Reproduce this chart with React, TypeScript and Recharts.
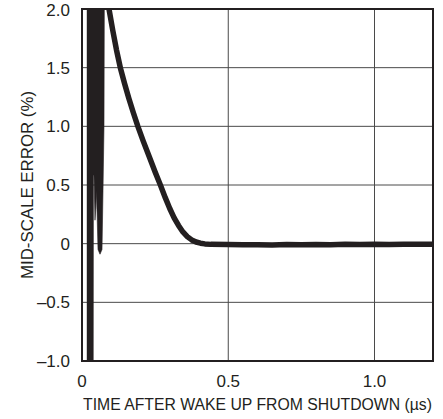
import React from 'react';
import { ComposedChart, Line, Area, XAxis, YAxis, CartesianGrid, ReferenceArea, Label } from 'recharts';

// wake-up burst envelope: time (µs), lower and upper mid-scale error (%)
const burstT: number[] = [
  0.01641, 0.03829, 0.03897, 0.04103, 0.04444, 0.04718, 0.04889,
  0.05128, 0.0547, 0.06154, 0.06838, 0.07179, 0.07521, 0.07658,
];
const burstLo: number[] = [
  -1.3, -1.3, 0.58, 0.58, 0.2, 0.3, 0.45,
  0.29, -0.05, -0.09, -0.05, 0.45, 1.0, 2.3,
];
const burstHi: number[] = [
  2.3, 2.3, 2.3, 2.3, 2.3, 2.3, 2.3,
  2.3, 2.3, 2.3, 2.3, 2.3, 2.3, 2.3,
];

// settling: time (µs) and mid-scale error (%)
const settleT: number[] = [
  0.0701, 0.0923, 0.105, 0.118, 0.131, 0.145, 0.16, 0.175, 0.191, 0.21, 0.23, 0.25, 0.268,
  0.285, 0.3, 0.315, 0.33, 0.345, 0.36, 0.375, 0.39, 0.405, 0.42, 0.44,
  0.5, 0.55, 0.6, 0.65, 0.7, 0.75, 0.8, 0.85, 0.9, 0.95, 1.0, 1.05, 1.1, 1.15, 1.2,
];
const settleV: number[] = [
  2.3, 2.0, 1.82, 1.65, 1.5, 1.37, 1.24, 1.12, 1.0, 0.87, 0.74, 0.61, 0.5,
  0.39, 0.3, 0.22, 0.155, 0.1, 0.06, 0.032, 0.014, 0.004, -0.002, -0.006,
  -0.008, -0.01, -0.009, -0.011, -0.008, -0.01, -0.007, -0.009, -0.006, -0.008, -0.005, -0.007, -0.004, -0.006, -0.004,
];

const xTicks = [0, 0.5, 1.0];
const xTickLabels = ['0', '0.5', '1.0'];
const yTicks = [-1.0, -0.5, 0, 0.5, 1.0, 1.5, 2.0];
const yTickLabels = ['\u20131.0', '\u20130.5', '0', '0.5', '1.0', '1.5', '2.0'];

const xTitle = 'TIME AFTER WAKE UP FROM SHUTDOWN (µs)';
const yTitle = 'MID-SCALE ERROR (%)';

type Row = { t: number; burst?: [number, number]; settle?: number };
const data: Row[] = [
  ...burstT.map((t, i) => ({ t, burst: [burstLo[i], burstHi[i]] as [number, number] })),
  ...settleT.map((t, i) => ({ t, settle: settleV[i] })),
];

const INK = '#231f20';
const FONT = '"Liberation Sans", Arial, sans-serif';

const XTitle = (props: any) => {
  const vb = props.viewBox || {};
  return (
    <text
      x={vb.x + vb.width / 2}
      y={vb.y + 49}
      textAnchor="middle"
      fontSize={16}
      fontFamily={FONT}
      fill={INK}
      textLength={349}
      lengthAdjust="spacingAndGlyphs"
    >
      {xTitle}
    </text>
  );
};

const YTitle = (props: any) => {
  const vb = props.viewBox || {};
  const cx = 33;
  const cy = vb.y + vb.height / 2;
  return (
    <text
      x={cx}
      y={cy}
      transform={`rotate(-90 ${cx} ${cy})`}
      textAnchor="middle"
      fontSize={17}
      fontFamily={FONT}
      fill={INK}
      textLength={188}
      lengthAdjust="spacingAndGlyphs"
    >
      {yTitle}
    </text>
  );
};

export default function App() {
  return (
    <div style={{ position: 'absolute', left: 0, top: 0, width: 443, height: 419, background: '#fff' }}>
      <ComposedChart
        width={443}
        height={419}
        data={data}
        margin={{ top: 9, right: 10, bottom: 0, left: 0 }}
      >
        <CartesianGrid stroke="#4a4a4a" strokeWidth={1} />
        <XAxis
          type="number"
          dataKey="t"
          domain={[0, 1.2]}
          ticks={xTicks}
          tickFormatter={(v: number) => xTickLabels[xTicks.indexOf(v)] ?? String(v)}
          allowDataOverflow
          tickLine={false}
          axisLine={false}
          height={58}
          tickMargin={8}
          tick={{ fill: INK, fontSize: 17, fontFamily: FONT }}
        >
          <Label content={XTitle} />
        </XAxis>
        <YAxis
          type="number"
          domain={[-1, 2]}
          ticks={yTicks}
          tickFormatter={(v: number) => yTickLabels[yTicks.indexOf(v)] ?? String(v)}
          allowDataOverflow
          tickLine={false}
          axisLine={false}
          width={82}
          tickMargin={6}
          tick={{ fill: INK, fontSize: 17, fontFamily: FONT }}
        >
          <Label content={YTitle} />
        </YAxis>
        <ReferenceArea
          x1={0}
          x2={1.2}
          y1={-1}
          y2={2}
          fill="none"
          fillOpacity={0}
          stroke={INK}
          strokeWidth={2}
          strokeOpacity={1}
        />
        <Area
          type="linear"
          dataKey="burst"
          fill={INK}
          fillOpacity={1}
          stroke={INK}
          strokeWidth={0.6}
          dot={false}
          activeDot={false}
          isAnimationActive={false}
        />
        <Line
          type="linear"
          dataKey="settle"
          stroke={INK}
          strokeWidth={5.5}
          strokeLinejoin="round"
          dot={false}
          activeDot={false}
          isAnimationActive={false}
        />
      </ComposedChart>
    </div>
  );
}
